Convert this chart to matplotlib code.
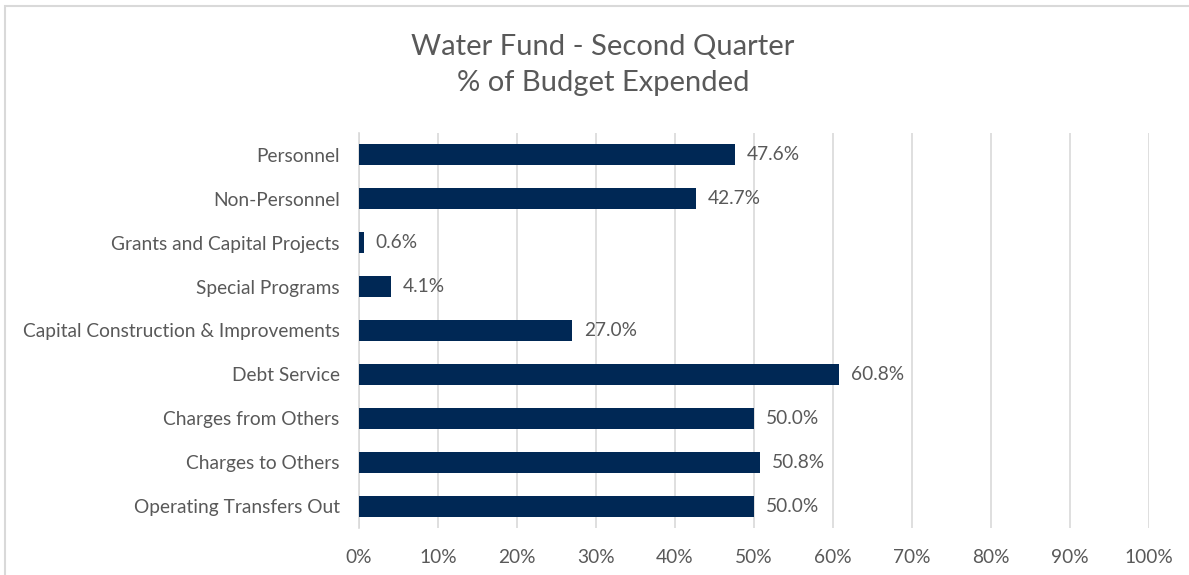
import matplotlib
matplotlib.use("Agg")
import matplotlib.pyplot as plt
from matplotlib.patches import Rectangle
from matplotlib.ticker import FuncFormatter, MultipleLocator

categories = ["Personnel", "Non-Personnel", "Grants and Capital Projects", "Special Programs",
              "Capital Construction & Improvements", "Debt Service", "Charges from Others",
              "Charges to Others", "Operating Transfers Out"]
values = [47.6, 42.7, 0.6, 4.1, 27.0, 60.8, 50.0, 50.8, 50.0]
title = "Water Fund - Second Quarter\n% of Budget Expended"

plt.rcParams['font.family'] = ['Lato', 'DejaVu Sans']
W, H = 1189, 575
fig = plt.figure(figsize=(W / 100, H / 100), dpi=100)
fig.patch.set_facecolor("white")

# chart border
fig.add_artist(Rectangle((5 / W, -0.1), 1.2, 1 - 6 / H + 0.1, transform=fig.transFigure,
                         fill=False, edgecolor="#D9D9D9", linewidth=1.5))

left, right = 359, 1149
top, bottom = 133, 528
ax = fig.add_axes([left / W, 1 - bottom / H, (right - left) / W, (bottom - top) / H])

text_color = "#595959"
bar_color = "#002855"
fs = 13.8
y = list(range(len(categories)))
ax.barh(y, values, height=0.48, color=bar_color, zorder=3)
ax.set_ylim(len(categories) - 0.5, -0.5)
ax.set_xlim(0, 100)
ax.set_yticks(y)
ax.set_yticklabels(categories, fontsize=fs, color=text_color)
ax.xaxis.set_major_locator(MultipleLocator(10))
ax.xaxis.set_major_formatter(FuncFormatter(lambda v, p: f"{v:.0f}%"))
for lbl in ax.get_xticklabels():
    lbl.set_fontsize(fs)
    lbl.set_color(text_color)
ax.tick_params(axis='both', length=0)
ax.tick_params(axis='y', pad=14)
ax.tick_params(axis='x', pad=15)
ax.grid(axis='x', color="#D9D9D9", linewidth=1.2, zorder=0)
for s in ["top", "right", "bottom"]:
    ax.spines[s].set_visible(False)
ax.spines["left"].set_color("#D9D9D9")
ax.spines["left"].set_linewidth(1.2)

for yi, v in zip(y, values):
    ax.text(v + 1.5, yi, f"{v:.1f}%", va="center", ha="left", fontsize=fs, color=text_color, zorder=4)

fig.text(603 / W, 1 - 65 / H, title, ha="center", va="center",
         fontsize=21, color=text_color, linespacing=1.45)

fig.savefig("out.png", dpi=100)
